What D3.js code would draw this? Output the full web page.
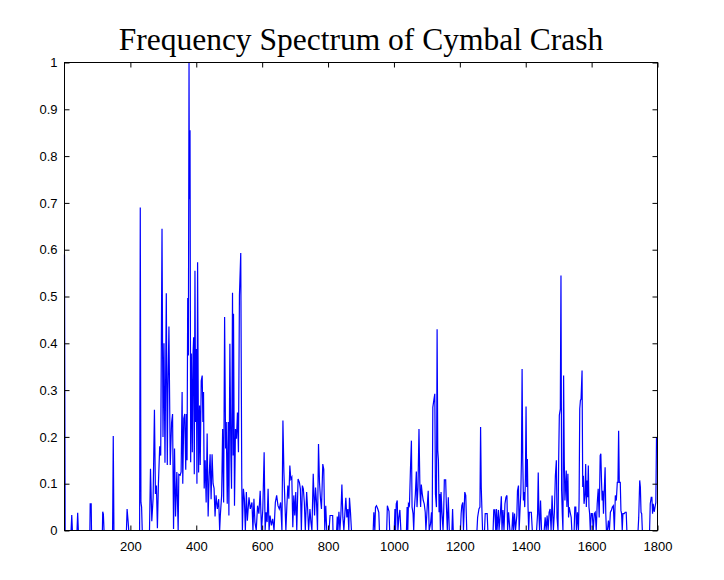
<!DOCTYPE html>
<html><head><meta charset="utf-8">
<script src="https://cdn.jsdelivr.net/npm/d3@7"></script>
<style>body{margin:0;background:#fff}</style>
</head><body><svg id="c" width="724" height="580"></svg>
<script>
const chartTitle = "Frequency Spectrum of Cymbal Crash";
const xTicks = [200, 400, 600, 800, 1000, 1200, 1400, 1600, 1800];
const yTicks = [0, 0.1, 0.2, 0.3, 0.4, 0.5, 0.6, 0.7, 0.8, 0.9, 1];
const yTickLabels = ["0", "0.1", "0.2", "0.3", "0.4", "0.5", "0.6", "0.7", "0.8", "0.9", "1"];

// [frequency, normalised amplitude]
const spectrumLow = [
[0,0.59],[2,0],[20,0],[22,0.033],[24,0],[38,0],[40,0.038],[42,0],[77,0],[78,0.057],[81,0.057],[82,0],[115,0],[116,0.04],[118,0.035],[120,0],[146,0],[148,0.202],[150,0],[188,0],[190,0.046],[193,0.02],[195,0],[228,0],[230,0.69],[232,0.06],[234,0.05],[236,0],
[258,0],[261,0.132],[265,0.02],[269,0.07],[273,0.258],[276,0.078],[279,0.096],[282,0.005],[285,0.098],[289,0.18],[292,0.16],[296,0.645],[299,0.2],[302,0.4],[305,0.145],[309,0.507],[312,0.14],[314,0.302],[317,0.436],[321,0.14],[325,0.23],[328,0.249],[331,0.003],[334,0.175],[337,0.03],[341,0.125],[345,0],[347,0.12],[351,0.118],[354,0.125],[357,0.296],[359,0.1],[362,0.239],[365,0.249],[368,0.13],[370,0.249],[372,0.15],[374,0.497],[376,0.374],[378,1.0],[379,0.708],[381,0.855],[383,0.146],[385,0.378],[388,0.167],[390,0.375],[392,0.413],[394,0.12],[396,0.555],[398,0.232],[400,0.388],[402,0.1],[404,0.573],[407,0.124],[410,0.267],[412,0.14],[415,0.32],[418,0.331],[420,0.232],[422,0.296],[424,0.09],[427,0.15],[430,0.06],[433,0.207],[436,0.03],[439,0.114],[442,0.163],[445,0.067],[448,0.163],[451,0.1],[454,0.09],[457,0.03],[460,0.075],[464,0.046],[468,0.067],
[471,0],[473,0.032],[477,0.075],[480,0.217],[483,0.06],[486,0.456],[489,0.175],[491,0.232],[494,0.057],[497,0.232],[499,0.032],[502,0.399],[505,0.16],[507,0.089],[510,0.508],[512,0.16],[513,0.463],[516,0.053],[519,0.217],[522,0.196],[525,0.252],[528,0.167],[531,0.502],[535,0.593],[538,0.11],[540,0],[543,0.089],[546,0.068],[549,0],[552,0.082],[555,0.021],[560,0.071],[564,0.046],[569,0.06],[572,0],[575,0.068],[578,0.018],[582,0],[586,0.053],[590,0.036],[594,0.085],[598,0],[602,0.046],[606,0.167],[609,0],[612,0.039],[615,0.018],[618,0.089],[621,0],[624,0.032],[628,0.011],[632,0.025],[636,0],[640,0.06],[644,0.075],[648,0.053],[652,0.046],[656,0.06],[660,0],[663,0.235],[666,0.124],[669,0.06],[672,0],[675,0.053],[678,0.096],[681,0.068],[684,0.139],[687,0.11],[690,0.114],[693,0.007],[696,0.075],[699,0.032],[702,0.082],[705,0],[709,0.11],[713,0.103],[716,0.089],[719,0],[722,0.096],[725,0.089],[728,0.06],[731,0],[735,0.082],[738,0.046],[741,0],[745,0.046],[748,0.018],[751,0],[755,0.121],[759,0.032],[762,0.092],[765,0.06],[768,0],[771,0.185],[774,0.103],[777,0.068],[780,0.046],[784,0.142],[787,0.131],[790,0],[793,0.053],[796,0],
[803,0],[806,0.032],[814,0.032],[815,0],[826,0],[828,0.03],[830,0],[833,0.04],[836,0],[839,0.035],[842,0.098],[845,0.028],[848,0],[851,0.035],[854,0.07],[857,0.028],[860,0.046],[863,0],[865,0.07],[868,0.04],[871,0]
];
const spectrumHigh = [
[937,0],[939,0.039],[942,0],[944,0.05],[947,0.053],[951,0.046],[954,0.039],[956,0],[978,0],[980,0.053],[985,0.041],[987,0],[1001,0],[1003,0.046],[1005,0],[1007,0.057],[1010,0.064],[1012,0],[1015,0.028],[1018,0.044],[1021,0],[1038,0],[1040,0.05],[1042,0],[1044,0.057],[1047,0.053],[1050,0.128],[1053,0.192],[1055,0.05],[1058,0.036],[1060,0],[1062,0.046],[1065,0.078],[1068,0.126],[1070,0.05],[1073,0.093],[1076,0.217],[1079,0.085],[1081,0.05],[1083,0.098],[1086,0.078],[1089,0.064],[1092,0.057],[1095,0.039],[1097,0],[1101,0.05],[1104,0.085],[1107,0],[1111,0.014],[1114,0.039],[1116,0],[1118,0.263],[1121,0.278],[1124,0.292],[1126,0.078],[1129,0.05],[1131,0.43],[1133,0.171],[1135,0.15],[1137,0.039],[1139,0.078],[1141,0],[1143,0.082],[1146,0.036],[1149,0],[1151,0.041],[1153,0.108],[1157,0.108],[1159,0.057],[1162,0],[1165,0.071],[1168,0],[1176,0],[1178,0.046],[1180,0],[1202,0],[1204,0.036],[1206,0.053],[1209,0.06],[1211,0],[1215,0.082],[1218,0.075],[1221,0],[1252,0],[1254,0.028],[1258,0.046],[1261,0.05],[1263,0.221],[1265,0.093],[1267,0.046],[1269,0],[1275,0],[1277,0.036],[1283,0.036],[1285,0],[1301,0],[1303,0.044],[1306,0.044],[1309,0],[1311,0.046],[1313,0],[1317,0.044],[1319,0],[1323,0.036],[1326,0.073],[1328,0],[1331,0.044],[1334,0],[1337,0.057],[1340,0.071],[1343,0.075],[1345,0],[1348,0.039],[1352,0],[1358,0],[1361,0.039],[1363,0],[1366,0.036],[1369,0],[1373,0.032],[1375,0.085],[1378,0.096],[1380,0],[1383,0.05],[1385,0.078],[1387,0.15],[1389,0.345],[1391,0.15],[1393,0.064],[1395,0.082],[1397,0.05],[1399,0.11],[1401,0.265],[1403,0.093],[1405,0.153],[1407,0.05],[1409,0],[1411,0.039],[1417,0.039],[1420,0],[1433,0],[1436,0.036],[1438,0.124],[1440,0.036],[1442,0],[1445,0.064],[1448,0],[1456,0],[1459,0.028],[1462,0],[1465,0.032],[1468,0],[1471,0.039],[1474,0.046],[1477,0],[1480,0.075],[1482,0.036],[1484,0],[1487,0.039],[1490,0.117],[1493,0.15],[1495,0.028],[1498,0],[1500,0.15],[1502,0.246],[1505,0.26],[1507,0.545],[1509,0.085],[1511,0.036],[1513,0],[1515,0.331],[1517,0.15],[1519,0.064],[1521,0.093],[1523,0.128],[1525,0.05],[1528,0.121],[1530,0.028],[1532,0.05],[1535,0.039],[1538,0.028],[1540,0],[1547,0],[1549,0.05],[1552,0.05],[1554,0],[1557,0.039],[1560,0],[1562,0.064],[1564,0.26],[1566,0.278],[1568,0.281],[1571,0.342],[1573,0.093],[1575,0.117],[1577,0.057],[1580,0.078],[1582,0.142],[1584,0.05],[1586,0.107],[1588,0.071],[1590,0.139],[1592,0.05],[1594,0.036],[1596,0],[1599,0.036],[1602,0.036],[1605,0],[1608,0.036],[1611,0.039],[1614,0],[1617,0.057],[1620,0.089],[1623,0.028],[1626,0.16],[1628,0.164],[1630,0.107],[1632,0.064],[1634,0.085],[1636,0.036],[1638,0.078],[1641,0.135],[1643,0.036],[1645,0],[1648,0],[1651,0.021],[1654,0],[1657,0.039],[1660,0.043],[1663,0.05],[1666,0.053],[1669,0],[1672,0.075],[1675,0.064],[1678,0.103],[1680,0.103],[1682,0.213],[1684,0.103],[1687,0.103],[1689,0.043],[1691,0.036],[1693,0],[1695,0.036],[1699,0.036],[1702,0.039],[1705,0.039],[1707,0],[1741,0],[1743,0.028],[1746,0.107],[1748,0.093],[1750,0.039],[1752,0.036],[1754,0],[1776,0],[1778,0.057],[1781,0.071],[1783,0.071],[1785,0.036],[1787,0.057],[1790,0.04],[1795,0.06],[1797,0.2]
];
const spectrum = spectrumLow.concat(spectrumHigh);

const plot = {left: 64.5, right: 657.5, top: 62.5, bottom: 530.5};
const svg = d3.select("#c");
const x = d3.scaleLinear().domain([0, 1800]).range([plot.left, plot.right]);
const y = d3.scaleLinear().domain([0, 1]).range([plot.bottom, plot.top]);
const font = "'Liberation Sans', Arial, Helvetica, sans-serif";

svg.append("text")
  .attr("x", (plot.left + plot.right) / 2).attr("y", 50)
  .attr("text-anchor", "middle")
  .attr("font-family", "'Liberation Serif', 'Times New Roman', serif")
  .attr("font-size", 31.5).attr("fill", "#000")
  .text(chartTitle);

// data line
svg.append("path")
  .datum(spectrum)
  .attr("fill", "none")
  .attr("stroke", "#0000ff")
  .attr("stroke-width", 1.2)
  .attr("stroke-linejoin", "miter")
  .attr("d", d3.line().x(d => x(d[0])).y(d => y(d[1])));

function styleAxis(g) {
  g.select(".domain").remove();
  g.selectAll(".tick line").attr("stroke", "#000");
  g.selectAll(".tick text").attr("font-family", font).attr("font-size", 13).attr("fill", "#000");
}
svg.append("g").attr("transform", `translate(0,${plot.bottom})`)
  .call(d3.axisBottom(x).tickValues(xTicks).tickFormat(d3.format("d")).tickSizeInner(-5).tickSizeOuter(0).tickPadding(11))
  .call(styleAxis);
svg.append("g").attr("transform", `translate(0,${plot.top})`)
  .call(d3.axisTop(x).tickValues(xTicks).tickFormat("").tickSizeInner(-5).tickSizeOuter(0))
  .call(styleAxis);
svg.append("g").attr("transform", `translate(${plot.left},0)`)
  .call(d3.axisLeft(y).tickValues(yTicks).tickFormat((d, i) => yTickLabels[i]).tickSizeInner(-5).tickSizeOuter(0).tickPadding(7))
  .call(styleAxis);
svg.append("g").attr("transform", `translate(${plot.right},0)`)
  .call(d3.axisRight(y).tickValues(yTicks).tickFormat("").tickSizeInner(-5).tickSizeOuter(0))
  .call(styleAxis);

svg.append("rect")
  .attr("x", plot.left).attr("y", plot.top)
  .attr("width", plot.right - plot.left).attr("height", plot.bottom - plot.top)
  .attr("fill", "none").attr("stroke", "#000").attr("stroke-width", 1);
</script></body></html>
